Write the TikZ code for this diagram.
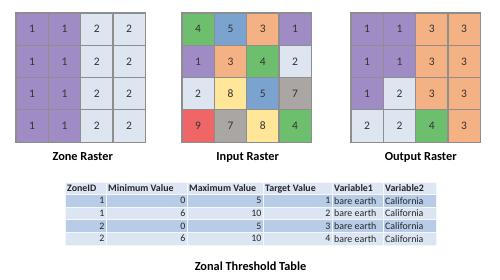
\documentclass[tikz,border=0pt]{standalone}
\usepackage{fontspec}
\setmainfont{Carlito}
\usetikzlibrary{positioning}
\definecolor{v1}{HTML}{A08CC4}
\definecolor{v2}{HTML}{DCE5F0}
\definecolor{v3}{HTML}{F4B183}
\definecolor{v4}{HTML}{6DBF6D}
\definecolor{v5}{HTML}{7BA3CF}
\definecolor{v7}{HTML}{A9A6A4}
\definecolor{v8}{HTML}{FFE699}
\definecolor{v9}{HTML}{F06666}
\definecolor{gridline}{HTML}{8E8E8E}
\definecolor{thead}{HTML}{DDE6F2}
\definecolor{tdark}{HTML}{B8CCE8}
\definecolor{tlight}{HTML}{DCE5F2}
\definecolor{tline}{HTML}{F4F7FB}

\tikzset{
  cell/.style={draw=gridline,line width=1.2pt,minimum size=32.3pt,inner sep=0pt,
    font=\fontsize{11.5}{13}\selectfont,text=black!80},
  rasterlabel/.style={font=\bfseries\fontsize{12.3}{14}\selectfont},
  tabtext/.style={font=\fontsize{9.9}{11}\selectfont,inner sep=1.5pt,text=black!85},
}

\begin{document}
\begin{tikzpicture}[x=1pt,y=-1pt]
        \useasboundingbox (0,0) rectangle (500,280);
        % the three rasters
        \foreach \row [count=\r] in {{1,1,2,2},{1,1,2,2},{1,1,2,2},{1,1,2,2}}
          \foreach \v [count=\c] in \row
            \node[cell,fill=v\v] (zone-\r-\c) at ({16+(\c-0.5)*32.3},{13+(\r-0.5)*32.3}) {\v};
        \foreach \row [count=\r] in {{4,5,3,1},{1,3,4,2},{2,8,5,7},{9,7,8,4}}
          \foreach \v [count=\c] in \row
            \node[cell,fill=v\v] (input-\r-\c) at ({182+(\c-0.5)*32.3},{13+(\r-0.5)*32.3}) {\v};
        \foreach \row [count=\r] in {{1,1,3,3},{1,1,3,3},{1,2,3,3},{2,2,4,3}}
          \foreach \v [count=\c] in \row
            \node[cell,fill=v\v] (output-\r-\c) at ({351+(\c-0.5)*32.3},{13+(\r-0.5)*32.3}) {\v};
        \node[rasterlabel,below=6pt of zone-4-2.south east,xshift=1.5pt] (zone-label) {Zone Raster};
        \node[rasterlabel,below=6pt of input-4-2.south east,xshift=0.5pt] (input-label) {Input Raster};
        \node[rasterlabel,below=6pt of output-4-2.south east,xshift=4.5pt] (output-label) {Output Raster};
        % threshold table
        \fill[thead] (65,182) rectangle (436,194.5);
        \foreach \x/\name in {65/ZoneID,106/Minimum Value,187/Maximum Value,263/Target Value,332/Variable1,383/Variable2}
          \node[tabtext,font=\bfseries\fontsize{9.9}{11}\selectfont,anchor=west] (head-\x) at (\x+0.5,188.5) {\name};
        \foreach \z/\lo/\hi/\t/\shade [count=\r] in {1/0/5/1/tdark,1/6/10/2/tlight,2/0/5/3/tdark,2/6/10/4/tlight}{
          \fill[\shade] (65,{194.5+(\r-1)*12.6}) rectangle (436,{194.5+\r*12.6});
          \node[tabtext,anchor=east] (zone-id-\r) at (106,{194.5+(\r-0.5)*12.6}) {\z};
          \node[tabtext,anchor=east] (min-\r) at (187,{194.5+(\r-0.5)*12.6}) {\lo};
          \node[tabtext,anchor=east] (max-\r) at (263,{194.5+(\r-0.5)*12.6}) {\hi};
          \node[tabtext,anchor=east] (target-\r) at (332,{194.5+(\r-0.5)*12.6}) {\t};
          \node[tabtext,anchor=west] (var-a-\r) at (332.5,{194.5+(\r-0.5)*12.6}) {bare earth};
          \node[tabtext,anchor=west] (var-b-\r) at (383.5,{194.5+(\r-0.5)*12.6}) {California};
        }
        \foreach \x in {65,106,187,263,332,383,436}
          \draw[tline,line width=0.8pt] (\x,182) -- (\x,245);
        \foreach \y in {182,194.5,207.1,219.7,232.3,244.9}
          \draw[tline,line width=0.8pt] (65,\y) -- (436,\y);
        \node[rasterlabel] (table-label) at (250.5,266.5) {Zonal Threshold Table};
      \end{tikzpicture}
\end{document}
